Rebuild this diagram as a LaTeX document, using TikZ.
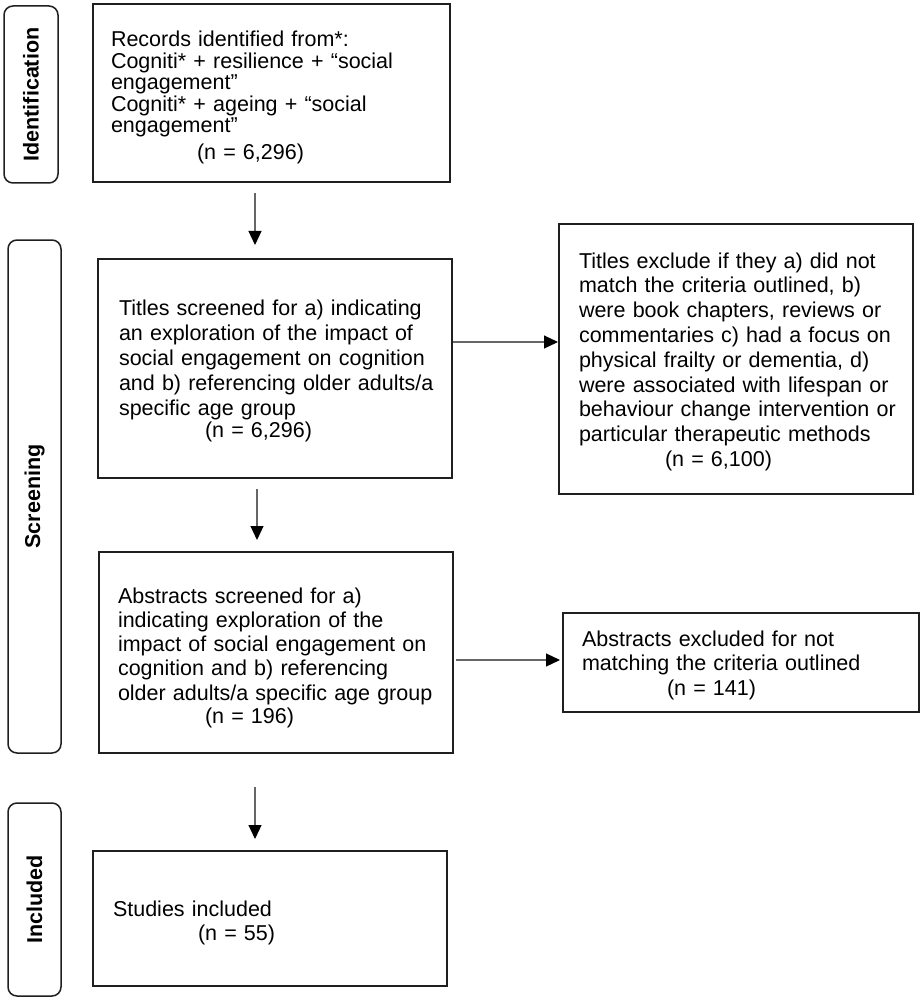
\documentclass[tikz,border=0pt]{standalone}
\usepackage{fontspec}
\setmainfont{Liberation Sans}
\usetikzlibrary{arrows.meta,calc}
\begin{document}
\begin{tikzpicture}[x=1pt,y=-1pt,
  box/.style={draw=black!88, line width=1.5pt, inner sep=0pt, outer sep=0pt},
  phase/.style={draw=black!88, line width=1.5pt, rounded corners=9pt, inner sep=0pt, outer sep=0pt, rotate=90,
    font=\bfseries\fontsize{21.5}{24}\selectfont},
  txt/.style={anchor=base west, inner sep=0pt, outer sep=0pt, text width=400pt, align=left},
  arr/.style={draw=black!60, line width=1.1pt, -{Triangle[length=14pt,width=13pt,color=black]}}
]
\useasboundingbox (0,0) rectangle (922,1000);

% phase labels
\node[phase, minimum width=177pt, minimum height=54pt] (pid) at (31,94.5) {Identification};
\node[phase, minimum width=513pt, minimum height=53pt] (psc) at (34.5,496.5) {Screening};
\node[phase, minimum width=193pt, minimum height=53pt] (pin) at (34.5,899.5) {Included};

% boxes
\node[box, minimum width=357pt, minimum height=178pt] (rec) at (271.5,93) {};
\node[box, minimum width=354pt, minimum height=219pt] (tit) at (275,368.5) {};
\node[box, minimum width=354pt, minimum height=270pt] (exa) at (736,359) {};
\node[box, minimum width=354pt, minimum height=201pt] (abs) at (276,652.5) {};
\node[box, minimum width=356pt, minimum height=99pt] (exb) at (741,662.5) {};
\node[box, minimum width=354pt, minimum height=135pt] (stu) at (270,918.5) {};

% texts
\node[txt, font=\fontsize{21.5}{21.5}\selectfont] (rect) at (111,47) {Records identified from*:\\
Cogniti* + resilience + “social\\
engagement”\\
Cogniti* + ageing + “social\\
engagement”\\[5.5pt]
\hspace*{86pt}(n = 6,296)};

\node[txt, font=\fontsize{21.5}{25}\selectfont] (titt) at (119,315) {Titles screened for a) indicating\\
an exploration of the impact of\\
social engagement on cognition\\
and b) referencing older adults/a\\
specific age group\\[-3pt]
\hspace*{86pt}(n = 6,296)};

\node[txt, font=\fontsize{21.5}{24.8}\selectfont] (exat) at (579,268) {Titles exclude if they a) did not\\
match the criteria outlined, b)\\
were book chapters, reviews or\\
commentaries c) had a focus on\\
physical frailty or dementia, d)\\
were associated with lifespan or\\
behaviour change intervention or\\
particular therapeutic methods\\
\hspace*{86pt}(n = 6,100)};

\node[txt, font=\fontsize{21.5}{24.3}\selectfont] (abst) at (118,603) {Abstracts screened for a)\\
indicating exploration of the\\
impact of social engagement on\\
cognition and b) referencing\\
older adults/a specific age group\\[-1.3pt]
\hspace*{87pt}(n = 196)};

\node[txt, font=\fontsize{21.5}{24.5}\selectfont] (exbt) at (582,646) {Abstracts excluded for not\\
matching the criteria outlined\\
\hspace*{85pt}(n = 141)};

\node[txt, font=\fontsize{21.5}{24}\selectfont] (stut) at (113,916) {Studies included\\
\hspace*{85pt}(n = 55)};

% arrows
\draw[arr] ($(rec.south west)+(162,11)$) -- ($(tit.north west)+(157,-14)$);
\draw[arr] ($(tit.north east)+(1,83)$) -- ($(exa.north west)+(-1,118)$);
\draw[arr] ($(tit.south west)+(159,11)$) -- ($(abs.north west)+(158,-12)$);
\draw[arr] ($(abs.north east)+(3,108)$) -- ($(exb.north west)+(-3,47)$);
\draw[arr] ($(abs.south west)+(156,34)$) -- ($(stu.north west)+(162,-12)$);
\end{tikzpicture}
\end{document}
